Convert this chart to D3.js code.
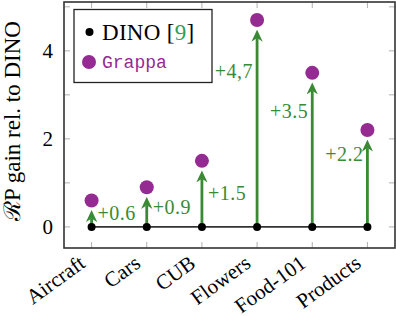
<!DOCTYPE html>
<html>
<head>
<meta charset="utf-8">
<script src="https://cdn.jsdelivr.net/npm/d3@7"></script>
<style>
  body { margin: 0; background: #fff; }
</style>
</head>
<body>
<div id="chart"></div>
<script>
// data
const datasets = ["Aircraft", "Cars", "CUB", "Flowers", "Food-101", "Products"];
const dinoGain = [0, 0, 0, 0, 0, 0];
const grappaGain = [0.6, 0.9, 1.5, 4.7, 3.5, 2.2];
const gainLabels = ["+0.6", "+0.9", "+1.5", "+4,7", "+3.5", "+2.2"];
const yTicks = [0, 1, 2, 3, 4, 5];
const yTickLabels = [0, 2, 4];

const W = 396, H = 316;
const margin = {top: 2, right: 1, bottom: 68, left: 64};
const green = "#3a8a35", purple = "#952a92", gridGray = "#b0b0b0";
const serif = "Liberation Serif";

const svg = d3.select("#chart").append("svg")
  .attr("width", W).attr("height", H)
  .attr("font-family", serif);

const x = d3.scalePoint()
  .domain(datasets)
  .range([margin.left, W - margin.right])
  .padding(0.5);

const y = d3.scaleLinear()
  .domain([-0.48, 5.11])
  .range([H - margin.bottom, margin.top]);

const x0 = margin.left, x1 = W - margin.right;
const y0 = margin.top, y1 = H - margin.bottom;

// ticks (inward, light grey)
const tickG = svg.append("g").attr("stroke", gridGray).attr("stroke-width", 1);
datasets.forEach(d => {
  tickG.append("line").attr("x1", x(d)).attr("x2", x(d)).attr("y1", y1).attr("y2", y1 - 6);
  tickG.append("line").attr("x1", x(d)).attr("x2", x(d)).attr("y1", y0).attr("y2", y0 + 6);
});
yTicks.forEach(t => {
  tickG.append("line").attr("x1", x0).attr("x2", x0 + 6).attr("y1", y(t)).attr("y2", y(t));
  tickG.append("line").attr("x1", x1).attr("x2", x1 - 6).attr("y1", y(t)).attr("y2", y(t));
});

// y tick labels
svg.append("g").selectAll("text").data(yTickLabels).join("text")
  .attr("x", x0 - 11).attr("y", d => y(d))
  .attr("dy", "0.33em")
  .attr("text-anchor", "end")
  .attr("font-size", 21)
  .text(d => d);

// x tick labels (rotated)
svg.append("g").selectAll("text").data(datasets).join("text")
  .attr("transform", d => `translate(${x(d) - 5},${y1 + 18}) rotate(-36)`)
  .attr("text-anchor", "end")
  .attr("font-size", 21)
  .text(d => d);

// y axis label
svg.append("text")
  .attr("transform", `translate(20,${(y0 + y1) / 2 - 4}) rotate(-90)`)
  .attr("text-anchor", "middle")
  .attr("font-size", 23)
  .text("ℛP gain rel. to DINO");

// arrow head marker (stealth-like)
svg.append("defs").append("marker")
  .attr("id", "arr")
  .attr("viewBox", "0 0 10 10")
  .attr("refX", 3).attr("refY", 5)
  .attr("markerWidth", 4.3).attr("markerHeight", 4.3)
  .attr("markerUnits", "strokeWidth")
  .attr("orient", "auto")
  .append("path")
  .attr("d", "M0,0.3 L10,5 L0,9.7 L3,5 Z")
  .attr("fill", green);

// DINO line
svg.append("path")
  .datum(dinoGain)
  .attr("fill", "none")
  .attr("stroke", "#333")
  .attr("stroke-width", 1.7)
  .attr("d", d3.line().x((d, i) => x(datasets[i])).y(d => y(d)));

// arrows
svg.append("g").selectAll("line").data(grappaGain).join("line")
  .attr("x1", (d, i) => x(datasets[i])).attr("x2", (d, i) => x(datasets[i]))
  .attr("y1", (d, i) => y(dinoGain[i]))
  .attr("y2", d => y(d) + 18)
  .attr("stroke", green)
  .attr("stroke-width", 2.8)
  .attr("marker-end", "url(#arr)");

// gain labels
svg.append("g").selectAll("text").data(grappaGain).join("text")
  .attr("x", (d, i) => i < 3 ? x(datasets[i]) + 6 : x(datasets[i]) - 4)
  .attr("y", (d, i) => i < 3 ? y(d * 0.5) : y(d * 0.75))
  .attr("dy", "0.33em")
  .attr("text-anchor", (d, i) => i < 3 ? "start" : "end")
  .attr("fill", green)
  .attr("font-size", 20)
  .attr("letter-spacing", 0.5)
  .text((d, i) => gainLabels[i]);

// DINO dots
svg.append("g").selectAll("circle").data(dinoGain).join("circle")
  .attr("cx", (d, i) => x(datasets[i])).attr("cy", d => y(d))
  .attr("r", 4).attr("fill", "#000");

// Grappa dots
svg.append("g").selectAll("circle").data(grappaGain).join("circle")
  .attr("cx", (d, i) => x(datasets[i])).attr("cy", d => y(d))
  .attr("r", 7).attr("fill", purple);

// frame
svg.append("rect")
  .attr("x", x0).attr("y", y0)
  .attr("width", x1 - x0).attr("height", y1 - y0)
  .attr("fill", "none").attr("stroke", "#333").attr("stroke-width", 1.6);

// legend
const lg = svg.append("g");
lg.append("rect")
  .attr("x", 74).attr("y", 9.5).attr("width", 138).attr("height", 73)
  .attr("fill", "#fff").attr("stroke", "#222").attr("stroke-width", 1.3);
lg.append("circle").attr("cx", 89.5).attr("cy", 32).attr("r", 4).attr("fill", "#000");
const t1 = lg.append("text").attr("x", 102).attr("y", 32).attr("dy", "0.33em")
  .attr("font-size", 23).attr("letter-spacing", 0.3);
t1.append("tspan").text("DINO [");
t1.append("tspan").attr("fill", "#2aa05a").text("9");
t1.append("tspan").text("]");
lg.append("circle").attr("cx", 89).attr("cy", 62).attr("r", 7).attr("fill", purple);
lg.append("text").attr("x", 102).attr("y", 62).attr("dy", "0.33em")
  .attr("font-size", 18).attr("fill", purple)
  .attr("font-family", "Liberation Mono")
  .text("Grappa");
</script>
</body>
</html>
